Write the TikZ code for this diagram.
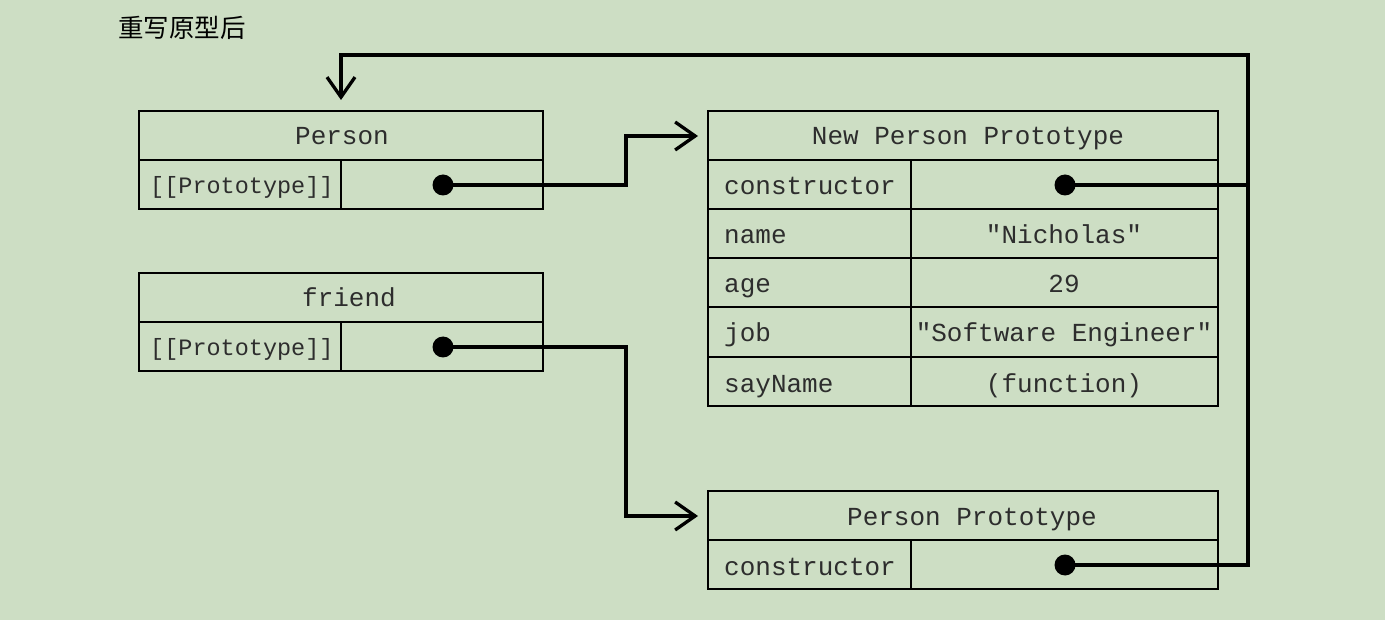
\documentclass[tikz,border=0pt]{standalone}
\usepackage{fontspec}
\setmonofont{Liberation Mono}
\newfontfamily\cjk{Noto Sans CJK SC}
\usetikzlibrary{arrows.meta}
\definecolor{bg}{RGB}{205,222,196}
\definecolor{txt}{RGB}{45,45,45}
\begin{document}
\begin{tikzpicture}[x=1pt,y=-1pt,
  box/.style={draw, line width=2.6pt, rectangle, inner sep=0pt},
  rule/.style={line width=2.6pt},
  lbl/.style={font=\fontsize{26}{26}\selectfont\ttfamily, text=txt, inner sep=0pt},
  slbl/.style={font=\fontsize{23.5}{24}\selectfont\ttfamily, text=txt, inner sep=0pt},
  conn/.style={line width=3.3pt, line join=miter},
  arr/.style={conn, -{Straight Barb[length=20pt, width=28pt]}},
  dot/.style={circle, fill=black, minimum size=21pt, inner sep=0pt}]
\fill[bg] (0,0) rectangle (1385,620);
\useasboundingbox (0,0) rectangle (1385,620);

% title
\node[anchor=west, inner sep=0pt, font=\cjk\fontsize{25.5}{26}\selectfont] (title) at (118,28) {重写原型后};

% Person
\node[box, minimum width=404pt, minimum height=98pt] (person) at (341,160) {};
\draw[rule] (139,160) -- (543,160);
\draw[rule] (341,160) -- (341,209);
\node[lbl, anchor=base] (tperson) at (342,145) {Person};
\node[slbl, anchor=base west] (tpproto) at (150,194) {[[Prototype]]};

% friend
\node[box, minimum width=404pt, minimum height=98pt] (friend) at (341,322) {};
\draw[rule] (139,322) -- (543,322);
\draw[rule] (341,322) -- (341,371);
\node[lbl, anchor=base] (tfriend) at (349,307) {friend};
\node[slbl, anchor=base west] (tfproto) at (150,356) {[[Prototype]]};

% New Person Prototype
\node[box, minimum width=510pt, minimum height=295pt] (npp) at (963,258.5) {};
\foreach \yy in {160,209,258,307,357} \draw[rule] (708,\yy) -- (1218,\yy);
\draw[rule] (911,160) -- (911,406);
\node[lbl, anchor=base] (tnpp) at (968,145) {New Person Prototype};
\node[lbl, anchor=base west] (tnc) at (724,195) {constructor};
\node[lbl, anchor=base west] (tnn) at (724,244) {name};
\node[lbl, anchor=base west] (tna) at (724,293) {age};
\node[lbl, anchor=base west] (tnj) at (724,342) {job};
\node[lbl, anchor=base west] (tns) at (724,392) {sayName};
\node[lbl, anchor=base] (vnn) at (1064,244) {"Nicholas"};
\node[lbl, anchor=base] (vna) at (1064,293) {29};
\node[lbl, anchor=base] (vnj) at (1064,342) {"Software Engineer"};
\node[lbl, anchor=base] (vns) at (1064,392) {(function)};

% Person Prototype
\node[box, minimum width=510pt, minimum height=98pt] (pp) at (963,540) {};
\draw[rule] (708,540) -- (1218,540);
\draw[rule] (911,540) -- (911,589);
\node[lbl, anchor=base] (tpp) at (972,525) {Person Prototype};
\node[lbl, anchor=base west] (tpc) at (724,575) {constructor};

% connector points
\coordinate (npin) at (698,136);
\coordinate (ppin) at (698,516);
\coordinate (pin) at (341,100);
\coordinate (rail) at (1248,55);

% connectors
\draw[arr] (443,185) coordinate (pstart) -- ++(183,0) |- (npin);
\draw[arr] (443,347) coordinate (fstart) -- ++(183,0) |- (ppin);
\draw[conn] (1065,565) coordinate (qstart) -| (rail);
\draw[arr] (1065,185) coordinate (nstart) -| (rail) -| (pin);

% dots
\node[dot] (pdot) at (pstart) {};
\node[dot] (fdot) at (fstart) {};
\node[dot] (ndot) at (nstart) {};
\node[dot] (qdot) at (qstart) {};
\end{tikzpicture}
\end{document}
